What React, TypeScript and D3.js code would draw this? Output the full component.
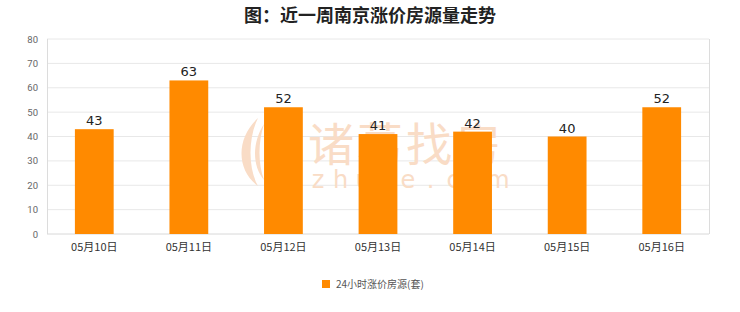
import React from "react";
import * as d3 from "d3";

const categories = ["05月10日", "05月11日", "05月12日", "05月13日", "05月14日", "05月15日", "05月16日"];
const values = [43, 63, 52, 41, 42, 40, 52];
const yTicks = [0, 10, 20, 30, 40, 50, 60, 70, 80];
const title = "图：近一周南京涨价房源量走势";
const seriesName = "24小时涨价房源(套)";

const W = 740, H = 312;
const M = { left: 47, right: 31, top: 39, bottom: 78 };

export default function App() {
  const x = d3.scaleBand().domain(categories).range([M.left, W - M.right]).paddingInner(0.59).paddingOuter(0.295);
  const y = d3.scaleLinear().domain([0, 80]).range([H - M.bottom, M.top]);
  const bw = x.bandwidth();
  const orange = "#ff8a00";
  const wm = "zhuge.com".split("");
  return (
    <div style={{ position: "fixed", left: 0, top: 0, width: W, height: H, background: "#fff" }}>
      <svg width={W} height={H} style={{ display: "block" }}>
        <rect x={0} y={0} width={W} height={H} fill="#fff" />
        <text x={370} y={22} textAnchor="middle" fontFamily="'Noto Sans CJK SC'" fontWeight={700} fontSize={18} fill="#222">{title}</text>
        {yTicks.map(t => (
          <g key={t}>
            <line x1={M.left} x2={W - M.right} y1={y(t)} y2={y(t)} stroke={t === 0 ? "#d8d8d8" : "#e8e8e8"} strokeWidth={1} />
            <text x={38} y={y(t) + 3.5} textAnchor="end" fontFamily="Roboto, 'DejaVu Sans'" fontSize={9.5} fill="#666">{t}</text>
          </g>
        ))}
        <line x1={M.left + 0.5} x2={M.left + 0.5} y1={y(80)} y2={y(0)} stroke="#dcdcdc" />
        <line x1={W - M.right + 0.5} x2={W - M.right + 0.5} y1={y(80)} y2={y(0)} stroke="#dcdcdc" />
        {/* watermark */}
        <g fill="#f9dcc6">
          <text x={308} y={161} fontFamily="'Noto Sans CJK SC'" fontSize={46} letterSpacing={3}>诸葛找房</text>
          {wm.map((ch, i) => (
            <text key={i} x={318 + i * 22.5} y={188} textAnchor="middle" fontFamily="'DejaVu Sans'" fontSize={24}>{ch}</text>
          ))}
          <path d="M258,118 C236,138 236,170 258,186 C248,168 248,138 258,118 Z" />
          <path d="M264,124 C252,142 252,166 264,180 C258,164 258,142 264,124 Z" />
        </g>
        {categories.map((c, i) => (
          <g key={c}>
            <rect x={x(c)} y={y(values[i])} width={bw} height={y(0) - y(values[i])} fill={orange} />
            <text x={x(c)! + bw / 2} y={y(values[i]) - 4} textAnchor="middle" fontFamily="'DejaVu Sans'" fontSize={13} fill="#222">{values[i]}</text>
            <text x={x(c)! + bw / 2} y={251} textAnchor="middle" fontFamily="'Noto Sans CJK SC'" fontSize={11} fill="#333">{c}</text>
          </g>
        ))}
        <rect x={322} y={280} width={8} height={8} fill={orange} />
        <text x={336} y={288} fontFamily="'Noto Sans CJK SC'" fontSize={10} fill="#555">{seriesName}</text>
      </svg>
    </div>
  );
}
